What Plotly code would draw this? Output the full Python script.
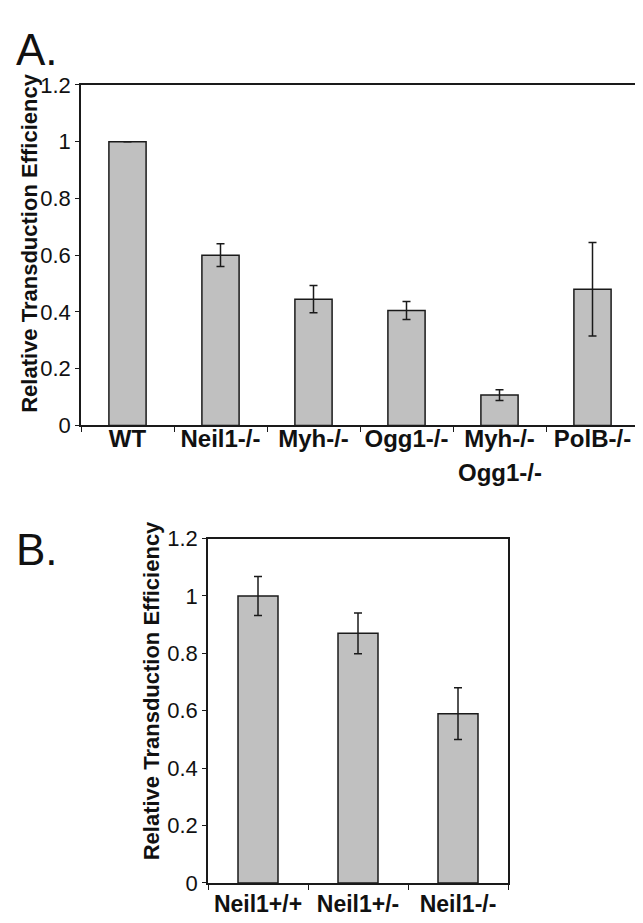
import plotly.graph_objects as go

# Panel A data
cats_a = ["WT", "Neil1-/-", "Myh-/-", "Ogg1-/-", "Myh-/-", "PolB-/-"]
cats_a_line2 = ["", "", "", "", "Ogg1-/-", ""]
vals_a = [1.0, 0.60, 0.445, 0.405, 0.107, 0.48]
errs_a = [0.0, 0.04, 0.048, 0.032, 0.019, 0.165]

# Panel B data
cats_b = ["Neil1+/+", "Neil1+/-", "Neil1-/-"]
vals_b = [1.0, 0.87, 0.59]
errs_b = [0.068, 0.071, 0.09]

y_ticks = [0, 0.2, 0.4, 0.6, 0.8, 1, 1.2]
y_title = "Relative Transduction Efficiency"

W, H = 643, 923
FONT = "Liberation Sans, Arial, sans-serif"
BAR_FILL = "#c0c0c0"
LINE = "#1a1a1a"
TXT = "#111111"

fig = go.Figure()

fig.add_trace(go.Bar(
    x=list(range(len(cats_a))), y=vals_a, width=0.4,
    marker=dict(color=BAR_FILL, line=dict(color=LINE, width=1.5)),
    error_y=dict(type="data", array=errs_a, visible=True, color=LINE, thickness=1.5, width=4),
    xaxis="x", yaxis="y", showlegend=False))

fig.add_trace(go.Bar(
    x=list(range(len(cats_b))), y=vals_b, width=0.4,
    marker=dict(color=BAR_FILL, line=dict(color=LINE, width=1.5)),
    error_y=dict(type="data", array=errs_b, visible=True, color=LINE, thickness=1.5, width=4),
    xaxis="x2", yaxis="y2", showlegend=False))

def px_x(p):
    return p / W

def px_y(p):
    return 1 - p / H

ax_common = dict(showline=True, linecolor=LINE, linewidth=1.5, mirror=True,
                 showgrid=False, zeroline=False)

fig.update_layout(
    width=W, height=H,
    margin=dict(l=0, r=0, t=0, b=0),
    paper_bgcolor="white", plot_bgcolor="white",
    font=dict(family=FONT, color=TXT),
    xaxis=dict(domain=[px_x(73), px_x(631)], anchor="y",
               range=[-0.5, len(cats_a) - 0.5],
               tickmode="array", tickvals=list(range(len(cats_a))), ticktext=cats_a,
               tickfont=dict(size=24, weight="bold", color=TXT),
               ticklabelstandoff=-9,
               ticks="", **ax_common),
    yaxis=dict(domain=[px_y(416.7), px_y(66.7)], anchor="x",
               range=[0, 1.2], tickmode="array", tickvals=y_ticks,
               ticks="outside", ticklen=4, tickcolor=LINE,
               tickfont=dict(size=22, color=TXT), **ax_common),
    xaxis2=dict(domain=[px_x(200), px_x(500)], anchor="y2",
                range=[-0.5, len(cats_b) - 0.5],
                tickmode="array", tickvals=list(range(len(cats_b))), ticktext=cats_b,
                tickfont=dict(size=23, weight="bold", color=TXT),
                ticks="", **ax_common),
    yaxis2=dict(domain=[px_y(887), px_y(533)], anchor="x2",
                range=[0, 1.2], tickmode="array", tickvals=y_ticks,
                ticks="outside", ticklen=4, tickcolor=LINE,
                tickfont=dict(size=22, color=TXT), **ax_common),
)

for ax, n in (("xaxis", len(cats_a)), ("xaxis2", len(cats_b))):
    fig.layout[ax].minor = dict(tickmode="array", tickvals=[i - 0.5 for i in range(n + 1)],
                                ticks="outside", ticklen=5, tickcolor=LINE, tickwidth=1)

annotations = [
    dict(text="A.", x=px_x(6), y=px_y(30), xref="paper", yref="paper",
         xanchor="left", yanchor="middle", showarrow=False,
         font=dict(size=44, color=TXT)),
    dict(text="B.", x=px_x(6), y=px_y(544), xref="paper", yref="paper",
         xanchor="left", yanchor="middle", showarrow=False,
         font=dict(size=44, color=TXT)),
    dict(text=y_title, x=px_x(22), y=px_y(230), xref="paper", yref="paper",
         textangle=-90, showarrow=False, xanchor="center", yanchor="middle",
         font=dict(size=22, weight="bold", color=TXT)),
    dict(text=y_title, x=px_x(143), y=px_y(690), xref="paper", yref="paper",
         textangle=-90, showarrow=False, xanchor="center", yanchor="middle",
         font=dict(size=22, weight="bold", color=TXT)),
]
# second line of the two-line category label
for i, t in enumerate(cats_a_line2):
    if t:
        annotations.append(dict(text=t, x=i, xref="x", y=px_y(465), yref="paper",
                                xanchor="center", yanchor="middle", showarrow=False,
                                font=dict(size=24, weight="bold", color=TXT)))
fig.update_layout(annotations=annotations)

fig.write_html("out.html")
